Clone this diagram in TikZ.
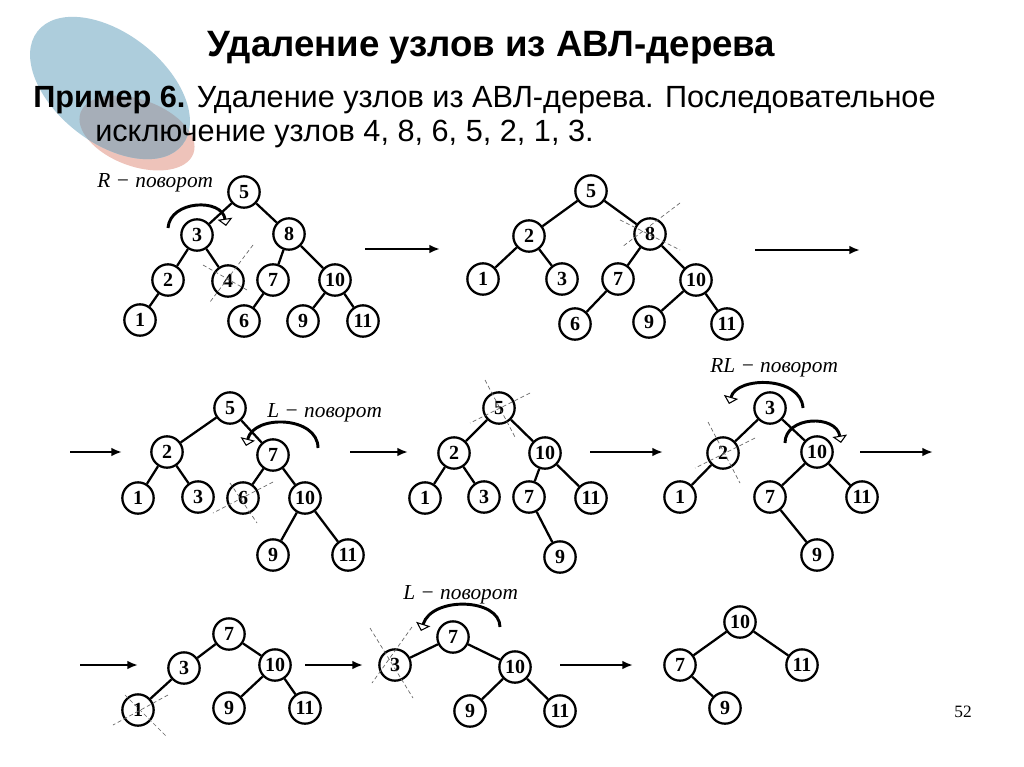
\documentclass[tikz,border=0pt]{standalone}
\usepackage{fontspec}
\setmainfont{Liberation Serif}
\newfontfamily\headfont{Liberation Sans}
\usetikzlibrary{arrows.meta,calc}
\definecolor{bluebg}{HTML}{ADCDDC}
\definecolor{pinkbg}{HTML}{EEC3BA}
\definecolor{greybg}{HTML}{A6AEB8}
\tikzset{
  vert/.style={circle,draw,line width=1.7pt,fill=white,minimum size=23.5pt,inner sep=0pt,
    font=\bfseries\fontsize{15}{15}\selectfont},
  edge/.style={line width=1.7pt},
  cut/.style={densely dashed,line width=0.5pt,black!60},
  flow/.style={line width=1.8pt,-{Latex[length=8pt,width=6.5pt]}},
  turn/.style={line width=2.2pt,-{Triangle[fill=white,line width=0.8pt,length=5.5pt,width=11pt]}},
  turnlabel/.style={anchor=west,inner sep=0pt,font=\itshape\fontsize{16}{16}\selectfont},
  headline/.style={anchor=base west,inner sep=0pt},
}

\begin{document}
\begin{tikzpicture}[x=0.75pt,y=-0.75pt]
\useasboundingbox (0,0) rectangle (1024,767);
\fill[white] (0,0) rectangle (1024,767);

% background blobs
\fill[pinkbg,rotate around={-20:(137,133)}] (137,133) ellipse[x radius=45pt,y radius=25pt];
\fill[bluebg,rotate around={-38:(110,88)}] (110,88) ellipse[x radius=69pt,y radius=41pt];
\begin{scope}
  \clip[rotate around={-38:(110,88)}] (110,88) ellipse[x radius=69pt,y radius=41pt];
  \fill[greybg,rotate around={-20:(137,133)}] (137,133) ellipse[x radius=45pt,y radius=25pt];
\end{scope}

\node[headline,font=\headfont\bfseries\fontsize{27.5}{27.5}\selectfont] (title) at (207,57)
  {Удаление узлов из АВЛ-дерева};
\node[headline,font=\headfont\fontsize{23}{23}\selectfont] (line1) at (33,108)
  {\textbf{Пример 6.} Удаление узлов из АВЛ-дерева. Последовательное};
\node[headline,font=\headfont\fontsize{23}{23}\selectfont] (line2) at (95,141)
  {исключение узлов 4, 8, 6, 5, 2, 1, 3.};

% tree a
\foreach \n/\x/\y in {5/244/192,3/197/235,8/289/234,2/168/280,4/228/281,7/273/280,
    10/335/280,1/140/320,6/244/321,9/303/321,11/363/321}
  \node[vert] (a\n) at (\x,\y) {\n};
\foreach \u/\v in {5/3,5/8,3/2,3/4,2/1,8/7,8/10,7/6,10/9,10/11}
  \draw[edge] (a\u) -- (a\v);
\draw[cut] ($(a4)+(25,-36)$) -- ($(a4)+(-18,21)$);
\draw[cut] ($(a4)+(-25,-16)$) -- ($(a4)+(19,9)$);
\node[turnlabel] (rota) at (97,183) {R − поворот};
\draw[turn] (168,228) .. controls (170,200) and (222,198) .. (226,226);

% tree b
\foreach \n/\x/\y in {5/591/191,2/529/236,8/650/234,1/483/279,3/562/279,7/618/279,
    10/696/280,6/575/324,9/649/322,11/727/324}
  \node[vert] (b\n) at (\x,\y) {\n};
\foreach \u/\v in {5/2,5/8,2/1,2/3,8/7,8/10,7/6,10/9,10/11}
  \draw[edge] (b\u) -- (b\v);
\draw[cut] ($(b8)+(30,-31)$) -- ($(b8)+(-28,13)$);
\draw[cut] ($(b8)+(-30,-14)$) -- ($(b8)+(30,16)$);

% tree c
\foreach \n/\x/\y in {5/230/408,2/167/452,7/273/455,1/138/498,3/198/497,6/243/498,
    10/305/498,9/273/555,11/348/555}
  \node[vert] (c\n) at (\x,\y) {\n};
\foreach \u/\v in {5/2,5/7,2/1,2/3,7/6,7/10,10/9,10/11}
  \draw[edge] (c\u) -- (c\v);
\draw[cut] ($(c6)+(30,-16)$) -- ($(c6)+(-30,15)$);
\draw[cut] ($(c6)+(-13,-15)$) -- ($(c6)+(14,25)$);
\node[turnlabel] (rotc) at (267,413) {L − поворот};
\draw[turn] (318,448) .. controls (318,416) and (254,414) .. (246,446);

% tree d
\foreach \n/\x/\y in {5/499/408,2/454/453,10/545/453,1/425/498,3/484/497,7/529/497,
    11/591/498,9/560/557}
  \node[vert] (d\n) at (\x,\y) {\n};
\foreach \u/\v in {5/2,5/10,2/1,2/3,10/7,10/11,7/9}
  \draw[edge] (d\u) -- (d\v);
\draw[cut] ($(d5)+(31,-15)$) -- ($(d5)+(-29,15)$);
\draw[cut] ($(d5)+(-14,-28)$) -- ($(d5)+(16,29)$);

% tree e
\foreach \n/\x/\y in {3/770/408,2/723/453,10/817/452,1/680/497,7/770/497,11/862/497,9/817/555}
  \node[vert] (e\n) at (\x,\y) {\n};
\foreach \u/\v in {3/2,3/10,2/1,10/7,10/11,7/9}
  \draw[edge] (e\u) -- (e\v);
\draw[cut] ($(e2)+(32,-15)$) -- ($(e2)+(-28,15)$);
\draw[cut] ($(e2)+(-15,-31)$) -- ($(e2)+(17,30)$);
\node[turnlabel] (rote) at (710,368) {RL − поворот};
\draw[turn] (803,408) .. controls (801,376) and (737,376) .. (729,404);
\draw[turn] (785,443) .. controls (785,416) and (836,414) .. (841,443);

% tree f
\foreach \n/\x/\y in {7/229/634,3/184/668,10/275/665,1/138/710,9/229/708,11/305/708}
  \node[vert] (f\n) at (\x,\y) {\n};
\foreach \u/\v in {7/3,7/10,3/1,10/9,10/11}
  \draw[edge] (f\u) -- (f\v);
\draw[cut] ($(f1)+(-13,-15)$) -- ($(f1)+(29,27)$);
\draw[cut] ($(f1)+(30,-15)$) -- ($(f1)+(-25,15)$);

% tree g
\foreach \n/\x/\y in {7/453/637,3/395/665,10/515/667,9/470/711,11/560/711}
  \node[vert] (g\n) at (\x,\y) {\n};
\foreach \u/\v in {7/3,7/10,10/9,10/11}
  \draw[edge] (g\u) -- (g\v);
\draw[cut] ($(g3)+(-25,-37)$) -- ($(g3)+(18,33)$);
\draw[cut] ($(g3)+(17,-38)$) -- ($(g3)+(-23,18)$);
\node[turnlabel] (rotg) at (403,595) {L − поворот};
\draw[turn] (500,627) .. controls (500,598) and (432,596) .. (421,631);

% tree h
\foreach \n/\x/\y in {10/740/622,7/680/665,11/802/665,9/725/708}
  \node[vert] (h\n) at (\x,\y) {\n};
\foreach \u/\v in {10/7,10/11,7/9}
  \draw[edge] (h\u) -- (h\v);

% arrows between the steps
\foreach \i/\xa/\xb/\y in {1/365/440/249,2/755/860/250,3/70/122/452,4/350/408/452,
    5/590/663/452,6/860/933/452,7/80/138/665,8/305/363/665,9/560/633/665} {
  \coordinate (s\i) at (\xa,\y);
  \coordinate (t\i) at (\xb,\y);
  \draw[flow] (s\i) -- (t\i);
}

\node[font=\fontsize{13}{13}\selectfont] (page) at (963,712) {52};
\end{tikzpicture}
\end{document}
